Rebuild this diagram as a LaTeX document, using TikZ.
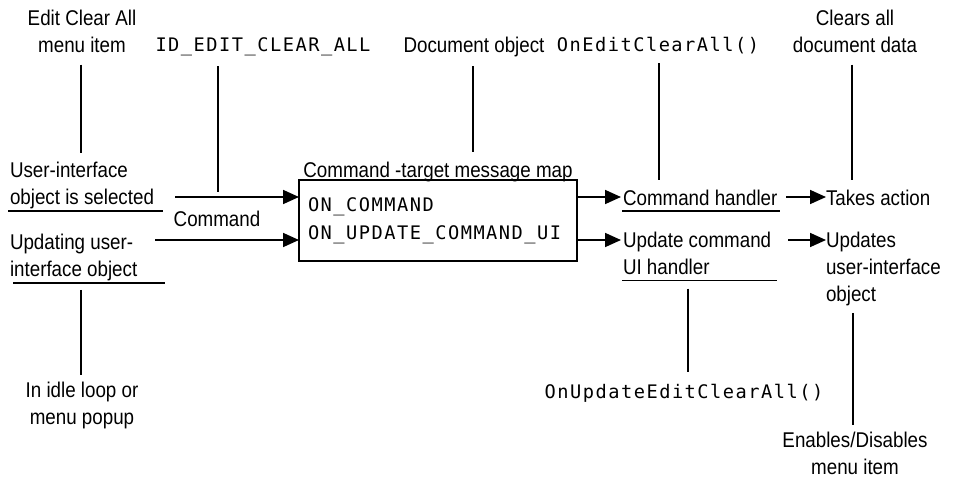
\documentclass[tikz,border=0pt]{standalone}
\usepackage{fontspec}
\setmainfont{Liberation Sans}[FakeStretch=0.88]
\newfontfamily\codefont{DejaVu Sans Mono}[LetterSpace=8]
\usetikzlibrary{arrows.meta,calc}

\begin{document}
\begin{tikzpicture}[x=0.75pt,y=-0.75pt,
  every node/.style={inner sep=0pt, outer sep=0pt},
  lbl/.style={font=\fontsize{16}{20.25}\selectfont, align=center},
  lblleft/.style={font=\fontsize{16}{20.25}\selectfont, align=left},
  code/.style={font=\codefont\fontsize{14}{21}\selectfont},
  wire/.style={line width=1.5pt},
  uline/.style={line width=1.1pt},
  flow/.style={line width=1.3pt, -{Triangle[length=12pt,width=10.5pt]}},
  mapframe/.style={draw, line width=1.3pt, inner xsep=6.75pt,
    minimum width=208.5pt, minimum height=60.75pt, text width=195pt, align=left}
]
\useasboundingbox (0,0) rectangle (969,478);

% ---- labels along the top ----
\node[lbl, anchor=north] (editlbl) at (82,10) {Edit Clear All\\menu item};
\node[code, anchor=base] (idlbl) at (263,52) {ID\_EDIT\_CLEAR\_ALL};
\node[lbl, anchor=base] (doclbl) at (474,53) {Document object};
\node[code, anchor=base] (oneditlbl) at (658,52) {OnEditClearAll()};
\node[lbl, anchor=north] (clearslbl) at (855,10) {Clears all\\document data};

% ---- message sources on the left ----
\node[lblleft, anchor=north west] (uisel) at (10,162)
  {User-interface\\object is selected};
\node[lbl, anchor=base] (cmdlbl) at (217,226) {Command};
\node[lblleft, anchor=north west] (updui) at (10,234)
  {Updating user-\\interface object};
\node[lbl, anchor=north] (idlelbl) at (82,382) {In idle loop or\\menu popup};

% ---- the message map ----
\node[lbl, anchor=base] (maptitle) at (438,177) {Command -target message map};
\node[mapframe, code] (mapbox) at (438,220.5)
  {ON\_COMMAND\\ON\_UPDATE\_COMMAND\_UI};

% ---- handlers and results on the right ----
\node[lblleft, anchor=base west] (cmdh) at (623,205) {Command handler};
\node[lblleft, anchor=base west] (takes) at (826,205) {Takes action};
\node[lblleft, anchor=north west] (updh) at (623,232)
  {Update command\\UI handler};
\node[lblleft, anchor=north west] (updates) at (826,232)
  {Updates\\user-interface\\object};
\node[code, anchor=base] (onupdlbl) at (684,398) {OnUpdateEditClearAll()};
\node[lbl, anchor=north] (enableslbl) at (855,432) {Enables/Disables\\menu item};

% underlines
\draw[uline] ($(uisel.south west)+(-2,2)$) -- ++(155,0);
\draw[uline] ($(updui.south west)+(3,2)$) -- ++(152,0);
\draw[uline] ($(cmdh.base west)+(-1,6)$) -- ++(158,0);
\draw[uline] ($(updh.south west)+(-1,6)$) -- ++(155,0);

% arrow end points
\coordinate (selstart) at (175,197);
\coordinate (updstart) at (155,240);
\coordinate (cmdtip) at (621,197);
\coordinate (updtip) at (621,240);
\coordinate (takesstart) at (786,197);
\coordinate (updatesstart) at (788,240);
\coordinate (idfoot) at (218,192);

% flow arrows
\draw[flow] (selstart) -- (selstart -| mapbox.west);
\draw[flow] (updstart) -- (updstart -| mapbox.west);
\draw[flow] (cmdtip -| mapbox.east) -- (cmdtip);
\draw[flow] (updtip -| mapbox.east) -- (updtip);
\draw[flow] (takesstart) -- (takesstart -| takes.west);
\draw[flow] (updatesstart) -- (updatesstart -| updates.west);

% call-out lines
\draw[wire] ($(editlbl.south)+(-1,12)$) -- ($(editlbl.south |- uisel.north)+(-1,-9)$);
\draw[wire] ($(idfoot |- idlbl.south)+(0,10)$) -- (idfoot);
\draw[wire] ($(doclbl.south)+(-1,9)$) -- ($(doclbl.south |- maptitle.north)+(-1,-10)$);
\draw[wire] ($(oneditlbl.south)+(1,9)$) -- ($(oneditlbl.south |- cmdh.north)+(1,-10)$);
\draw[wire] ($(clearslbl.south)+(-3,12)$) -- ($(clearslbl.south |- takes.north)+(-3,-10)$);
\draw[wire] ($(editlbl.south |- updui.south)+(-1,9)$) -- ($(idlelbl.north)+(-1,-7)$);
\draw[wire] ($(onupdlbl.north |- updh.south)+(4,14)$) -- ($(onupdlbl.north)+(4,-12)$);
\draw[wire] ($(enableslbl.north |- updates.south)+(-2,7)$) -- ($(enableslbl.north)+(-2,-7)$);
\end{tikzpicture}
\end{document}
